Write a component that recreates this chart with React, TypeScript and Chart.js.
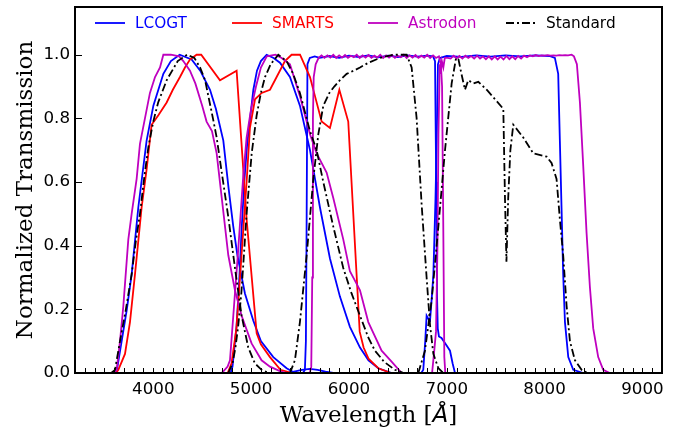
import React, { useEffect, useRef } from "react";
import { Chart, registerables } from "chart.js";

Chart.register(...registerables);

// ---------------- data (wavelength in Å, normalized transmission) ----------------
const lcogtB_wl = [3600, 3626, 3677, 3730, 3779, 3847, 3932, 4001, 4103, 4180, 4270, 4392, 4480, 4580, 4640, 4716, 4770, 4818, 4860, 4937, 5022, 5100, 5227, 5363, 5450];
const lcogtB_T = [0, 0.005, 0.10, 0.20, 0.31, 0.52, 0.73, 0.84, 0.94, 0.98, 1.0, 0.985, 0.95, 0.89, 0.83, 0.73, 0.58, 0.46, 0.37, 0.25, 0.165, 0.10, 0.05, 0.015, 0];

const lcogtV_wl = [4790, 4810, 4852, 4880, 4903, 4930, 4960, 4990, 5023, 5060, 5100, 5159, 5230, 5295, 5397, 5499, 5602, 5704, 5806, 5908, 6010, 6113, 6200, 6300, 6436];
const lcogtV_T = [0, 0.02, 0.15, 0.30, 0.45, 0.60, 0.72, 0.80, 0.89, 0.95, 0.98, 1.0, 0.99, 0.975, 0.93, 0.84, 0.70, 0.52, 0.36, 0.24, 0.145, 0.08, 0.04, 0.015, 0];

const lcogtLeak_wl = [5380, 5450, 5520, 5600, 5680, 5760, 5840];
const lcogtLeak_T = [0, 0.005, 0.01, 0.013, 0.01, 0.004, 0];

const lcogtR_wl = [5530, 5550, 5560, 5568, 5576, 5600, 5650, 5700, 5800, 5900,
  6000, 6100, 6200, 6300, 6400, 6500, 6600, 6700, 6800,
  6860, 6880, 6892, 6900, 6908, 6920, 6946, 6990, 7033, 7060, 7084];
const lcogtR_T = [0, 0.01, 0.1, 0.5, 0.97, 0.99, 0.995, 0.99, 0.996, 0.99,
  0.997, 0.993, 0.998, 0.992, 0.997, 0.993, 0.998, 0.994, 0.997,
  0.995, 0.98, 0.6, 0.25, 0.14, 0.115, 0.11, 0.09, 0.07, 0.03, 0];

const lcogtI_wl = [6740, 6760, 6780, 6794, 6812, 6829, 6850, 6863, 6885, 6897,
  6910, 6930, 7000, 7150, 7300, 7450, 7600, 7750, 7900, 8050,
  8105, 8139, 8156, 8173, 8190, 8208, 8242, 8293, 8395];
const lcogtI_T = [0, 0.01, 0.1, 0.18, 0.17, 0.165, 0.25, 0.31, 0.55, 0.73,
  0.97, 0.99, 0.996, 0.993, 0.998, 0.994, 0.998, 0.995, 0.998, 0.996,
  0.99, 0.94, 0.73, 0.52, 0.31, 0.16, 0.05, 0.01, 0];

const smartsB_wl = [3620, 3643, 3711, 3762, 3813, 3881, 3932, 3983, 4052, 4137, 4200, 4273, 4324, 4375, 4443, 4490, 4682, 4852, 4955, 5057, 5100, 5193, 5300, 5420];
const smartsB_T = [0, 0.01, 0.06, 0.16, 0.31, 0.52, 0.64, 0.78, 0.81, 0.85, 0.89, 0.93, 0.96, 0.985, 1.0, 1.0, 0.92, 0.95, 0.48, 0.125, 0.09, 0.05, 0.01, 0];

const smartsV_wl = [4760, 4800, 4850, 4900, 4954, 4988, 5040, 5108, 5193, 5261, 5346, 5414, 5500, 5602, 5653, 5721, 5806, 5902, 5993, 6110, 6150, 6200, 6300, 6430];
const smartsV_T = [0, 0.03, 0.14, 0.36, 0.60, 0.77, 0.86, 0.88, 0.89, 0.93, 0.98, 1.0, 1.0, 0.93, 0.87, 0.79, 0.77, 0.89, 0.79, 0.13, 0.08, 0.045, 0.015, 0];

const astroB_wl = [3600, 3626, 3660, 3694, 3745, 3779, 3830, 3864, 3915, 3966,
  4018, 4069, 4103, 4180, 4265, 4307, 4375, 4430, 4500, 4545,
  4600, 4648, 4700, 4767, 4835, 4903, 5005, 5107, 5193, 5300, 5360];
const astroB_T = [0, 0.01, 0.10, 0.21, 0.42, 0.50, 0.61, 0.72, 0.80, 0.88,
  0.93, 0.96, 1.0, 1.0, 0.995, 0.98, 0.95, 0.91, 0.84, 0.79,
  0.76, 0.69, 0.55, 0.37, 0.26, 0.18, 0.093, 0.04, 0.02, 0.005, 0];

const astroV_wl = [4700, 4716, 4760, 4784, 4818, 4869, 4920, 4954, 5000, 5050,
  5100, 5160, 5250, 5312, 5397, 5499, 5602, 5670, 5772, 5840,
  5942, 6010, 6079, 6113, 6198, 6334, 6436, 6539];
const astroV_T = [0, 0.005, 0.02, 0.04, 0.18, 0.39, 0.62, 0.74, 0.83, 0.90,
  0.96, 0.995, 1.0, 0.99, 0.97, 0.87, 0.75, 0.69, 0.63, 0.55,
  0.42, 0.32, 0.28, 0.26, 0.16, 0.07, 0.036, 0];

const astroR_wl = [5600, 5615, 5625, 5632, 5640, 5660,
  5690, 5720, 5750, 5780, 5810, 5840, 5870, 5900, 5930, 5960,
  5990, 6020, 6050, 6080, 6110, 6140, 6170, 6200, 6230, 6260,
  6290, 6320, 6350, 6380, 6410, 6440, 6470, 6500, 6530, 6560,
  6590, 6620, 6650, 6680, 6710, 6740, 6770, 6800, 6830, 6860,
  6890, 6920, 6940, 6952, 6962, 6975, 6985];
const astroR_T = [0, 0.02, 0.3, 0.8, 0.93, 0.97,
  0.99, 0.998, 0.99, 0.998, 0.991, 1.0, 0.99, 0.998, 0.991, 0.999,
  0.99, 0.997, 0.992, 1.0, 0.99, 0.998, 0.991, 0.999, 0.99, 0.997,
  0.991, 1.0, 0.99, 0.998, 0.991, 0.999, 0.99, 0.997, 0.992, 1.0,
  0.99, 0.998, 0.991, 0.999, 0.99, 0.997, 0.991, 1.0, 0.99, 0.998,
  0.99, 0.995, 0.97, 0.9, 0.55, 0.05, 0];

const astroI_wl = [6850, 6875, 6890, 6905, 6915, 6928, 6938, 6950, 6965, 6980,
  7010, 7040, 7070, 7100, 7130, 7160, 7190, 7220, 7250, 7280,
  7310, 7340, 7370, 7400, 7430, 7460, 7490, 7520, 7550, 7580,
  7610, 7640, 7670, 7700, 7730, 7760, 7790, 7820, 7850, 7880,
  7910, 7940, 7970, 8000, 8030, 8060, 8090, 8120, 8150, 8180,
  8210, 8240, 8276, 8300, 8330, 8361, 8395, 8429, 8463, 8497, 8548, 8599, 8667];
const astroI_T = [0, 0.08, 0.13, 0.4, 0.75, 0.97, 0.94, 0.98, 0.96, 0.99,
  0.99, 0.988, 0.997, 0.989, 0.996, 0.988, 0.997, 0.99, 0.996, 0.988,
  0.997, 0.988, 0.995, 0.986, 0.995, 0.985, 0.995, 0.985, 0.994, 0.985,
  0.996, 0.986, 0.995, 0.986, 0.996, 0.988, 0.997, 0.992, 0.998, 0.995,
  0.999, 0.996, 0.998, 0.997, 0.999, 0.997, 0.998, 0.997, 0.999, 0.998,
  0.999, 0.998, 1.0, 0.995, 0.97, 0.85, 0.65, 0.44, 0.27, 0.14, 0.05, 0.01, 0];

const stdB_wl = [3570, 3609, 3660, 3720, 3779, 3820, 3864, 3910, 3950, 4000,
  4050, 4137, 4250, 4345, 4420, 4478, 4530, 4563, 4610, 4648,
  4700, 4767, 4835, 4903, 4971, 5039, 5107, 5180];
const stdB_T = [0, 0.01, 0.10, 0.20, 0.31, 0.41, 0.50, 0.62, 0.71, 0.79,
  0.85, 0.92, 0.98, 1.0, 0.99, 0.96, 0.92, 0.87, 0.80, 0.74,
  0.63, 0.49, 0.33, 0.18, 0.08, 0.03, 0.01, 0];

const stdV_wl = [4767, 4810, 4840, 4869, 4900, 4920, 4954, 5006, 5057, 5100,
  5142, 5200, 5278, 5363, 5430, 5499, 5602, 5670, 5738, 5840,
  5942, 6027, 6113, 6200, 6266, 6360, 6470, 6560];
const stdV_T = [0, 0.03, 0.08, 0.15, 0.25, 0.34, 0.50, 0.69, 0.81, 0.88,
  0.93, 0.97, 1.0, 0.98, 0.94, 0.88, 0.76, 0.70, 0.60, 0.46,
  0.33, 0.25, 0.18, 0.11, 0.07, 0.035, 0.01, 0];

const stdR_wl = [5397, 5448, 5499, 5568, 5636, 5687, 5738, 5800, 5850, 5908,
  5977, 6050, 6113, 6200, 6317, 6450, 6590, 6641, 6692, 6743,
  6794, 6829, 6863, 6914, 6965];
const stdR_T = [0, 0.04, 0.16, 0.37, 0.61, 0.75, 0.84, 0.88, 0.90, 0.92,
  0.94, 0.95, 0.96, 0.975, 0.99, 1.0, 1.0, 0.96, 0.80, 0.53,
  0.30, 0.15, 0.06, 0.015, 0];

const stdI_wl = [6709, 6777, 6846, 6914, 6982, 7050, 7095, 7120, 7150, 7186,
  7220, 7271, 7322, 7408, 7493, 7578, 7595, 7610, 7628, 7650,
  7680, 7782, 7884, 8020, 8071, 8122, 8157, 8190, 8225, 8259,
  8310, 8378, 8440];
const stdI_T = [0, 0.07, 0.23, 0.46, 0.70, 0.91, 0.99, 0.985, 0.94, 0.89,
  0.92, 0.91, 0.915, 0.89, 0.86, 0.83, 0.55, 0.35, 0.55, 0.70,
  0.78, 0.74, 0.69, 0.68, 0.66, 0.61, 0.48, 0.37, 0.21, 0.10,
  0.04, 0.01, 0];

// ---------------- axes / legend ----------------
const xTickValues = [4000, 5000, 6000, 7000, 8000, 9000];
const yTickValues = [0, 0.2, 0.4, 0.6, 0.8, 1.0];
const seriesNames = ["LCOGT", "SMARTS", "Astrodon", "Standard"];
const seriesColors = ["#0000ff", "#ff0000", "#bf00bf", "#000000"];
const xTitle = "Wavelength [";
const xTitleUnit = "Å";
const yTitle = "Normalized Transmission";

const X_MIN = 3200, X_MAX = 9200, Y_MIN = 0, Y_MAX = 1.15;
const DASHDOT = [8, 3, 2, 3];

const bands = [
  { s: 0, wl: lcogtB_wl, t: lcogtB_T },
  { s: 0, wl: lcogtV_wl, t: lcogtV_T },
  { s: 0, wl: lcogtLeak_wl, t: lcogtLeak_T },
  { s: 0, wl: lcogtR_wl, t: lcogtR_T },
  { s: 0, wl: lcogtI_wl, t: lcogtI_T },
  { s: 1, wl: smartsB_wl, t: smartsB_T },
  { s: 1, wl: smartsV_wl, t: smartsV_T },
  { s: 2, wl: astroB_wl, t: astroB_T },
  { s: 2, wl: astroV_wl, t: astroV_T },
  { s: 2, wl: astroR_wl, t: astroR_T },
  { s: 2, wl: astroI_wl, t: astroI_T },
  { s: 3, wl: stdB_wl, t: stdB_T },
  { s: 3, wl: stdV_wl, t: stdV_T },
  { s: 3, wl: stdR_wl, t: stdR_T },
  { s: 3, wl: stdI_wl, t: stdI_T },
];

const decorPlugin = {
  id: "decor",
  afterDatasetsDraw(chart: any) {
    const { ctx, chartArea: a, scales } = chart;
    const xs = scales.x, ys = scales.y;
    ctx.save();
    // minor ticks on bottom axis (inward)
    ctx.strokeStyle = "#000";
    ctx.lineWidth = 1;
    ctx.beginPath();
    for (let v = 3300; v <= 9100; v += 100) {
      const px = Math.round(xs.getPixelForValue(v)) + 0.5;
      ctx.moveTo(px, a.bottom);
      ctx.lineTo(px, a.bottom - 5);
    }
    // major ticks on left axis (inward)
    for (const v of yTickValues) {
      const py = Math.round(ys.getPixelForValue(v)) + 0.5;
      ctx.moveTo(a.left, py);
      ctx.lineTo(a.left + 7, py);
    }
    ctx.stroke();
    // frame
    ctx.lineWidth = 2;
    ctx.strokeRect(a.left, a.top, a.right - a.left, a.bottom - a.top);

    // legend (inside plot, top)
    const lx = [a.left + 20, a.left + 157, a.left + 293, a.left + 431];
    const ly = a.top + 16;
    ctx.font = "15.3px 'DejaVu Sans'";
    ctx.textBaseline = "middle";
    ctx.textAlign = "left";
    seriesNames.forEach((name, i) => {
      ctx.strokeStyle = seriesColors[i];
      ctx.lineWidth = 1.8;
      ctx.setLineDash(i === 3 ? DASHDOT : []);
      ctx.beginPath();
      ctx.moveTo(lx[i], ly);
      ctx.lineTo(lx[i] + 30, ly);
      ctx.stroke();
      ctx.setLineDash([]);
      ctx.fillStyle = seriesColors[i];
      ctx.fillText(name, lx[i] + 40, ly + 1);
    });

    // axis titles
    ctx.fillStyle = "#000";
    const serif = "23px 'DejaVu Serif'";
    const unitFont = "italic 23px 'DejaVu Sans'";
    ctx.textBaseline = "alphabetic";
    ctx.font = serif;
    const w1 = ctx.measureText(xTitle).width;
    const w3 = ctx.measureText("]").width;
    ctx.font = unitFont;
    const w2 = ctx.measureText(xTitleUnit).width;
    const total = w1 + w2 + w3;
    const x0 = (a.left + a.right) / 2 - total / 2;
    const yb = 422;
    ctx.font = serif;
    ctx.fillText(xTitle, x0, yb);
    ctx.font = unitFont;
    ctx.fillText(xTitleUnit, x0 + w1, yb);
    ctx.font = serif;
    ctx.fillText("]", x0 + w1 + w2, yb);

    ctx.translate(32, (a.top + a.bottom) / 2);
    ctx.rotate(-Math.PI / 2);
    ctx.textAlign = "center";
    ctx.fillText(yTitle, 0, 0);
    ctx.restore();
  },
};

export default function App() {
  const ref = useRef<HTMLCanvasElement | null>(null);
  useEffect(() => {
    if (!ref.current) return;
    const datasets = bands.map((b) => ({
      label: seriesNames[b.s],
      data: b.wl.map((w, i) => ({ x: w, y: b.t[i] })),
      borderColor: seriesColors[b.s],
      borderWidth: 1.8,
      borderDash: b.s === 3 ? DASHDOT : [],
      pointRadius: 0,
      fill: false,
      tension: 0,
      order: 3 - b.s,
    }));
    const tickFont = { family: "'DejaVu Sans'", size: 16.7 };
    const chart = new Chart(ref.current, {
      type: "line",
      data: { datasets },
      options: {
        animation: false,
        responsive: false,
        devicePixelRatio: 1,
        layout: { padding: { left: 0, right: 23, top: 7, bottom: 0 } },
        plugins: { legend: { display: false }, tooltip: { enabled: false } },
        scales: {
          x: {
            type: "linear",
            min: X_MIN,
            max: X_MAX,
            grid: { display: false, drawTicks: false, tickLength: 0 },
            border: { display: false },
            afterBuildTicks: (s: any) => { s.ticks = xTickValues.map((v) => ({ value: v })); },
            afterFit: (s: any) => { s.height = 58; s.paddingLeft = 0; s.paddingRight = 0; },
            ticks: {
              color: "#000",
              font: tickFont,
              padding: 7,
              maxRotation: 0,
              minRotation: 0,
              autoSkip: false,
              callback: (v: any) => String(v),
            },
          },
          y: {
            type: "linear",
            min: Y_MIN,
            max: Y_MAX,
            grid: { display: false, drawTicks: false, tickLength: 0 },
            border: { display: false },
            afterBuildTicks: (s: any) => { s.ticks = yTickValues.map((v) => ({ value: v })); },
            afterFit: (s: any) => { s.width = 75; s.paddingTop = 0; s.paddingBottom = 0; },
            ticks: {
              color: "#000",
              font: tickFont,
              padding: 5,
              autoSkip: false,
              callback: (v: any) => Number(v).toFixed(1),
            },
          },
        },
      },
      plugins: [decorPlugin],
    } as any);
    return () => chart.destroy();
  }, []);
  return (
    <div style={{ position: "fixed", left: 0, top: 0, width: 685, height: 431, background: "#fff" }}>
      <canvas ref={ref} width={685} height={431} style={{ display: "block" }} />
    </div>
  );
}
